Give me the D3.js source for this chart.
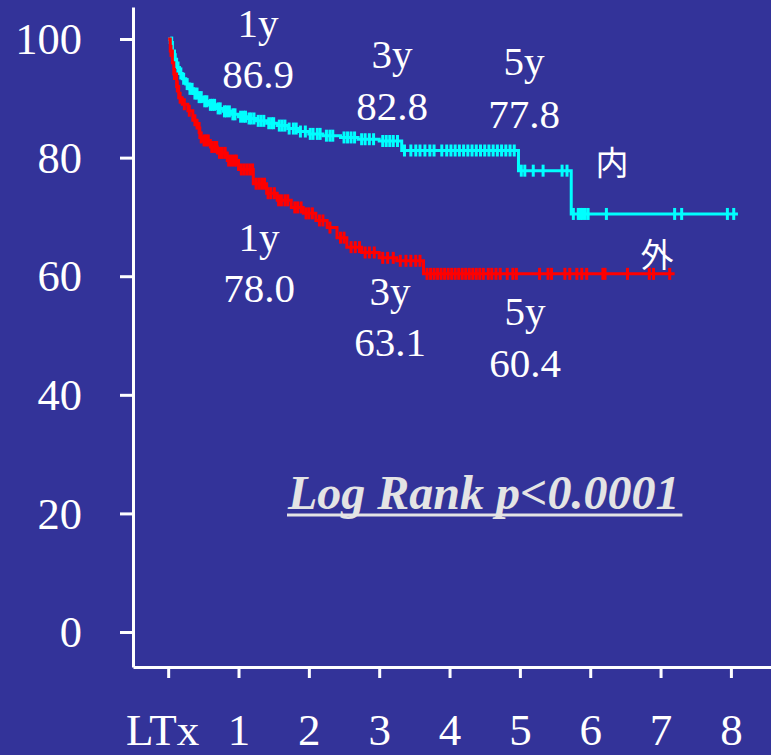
<!DOCTYPE html>
<html>
<head>
<meta charset="utf-8">
<script src="https://cdn.jsdelivr.net/npm/d3@7"></script>
<style>
  html, body { margin: 0; padding: 0; background: #333399; }
  svg { display: block; }
</style>
</head>
<body>
<svg id="chart" width="771" height="755"></svg>
<script>
// Kaplan–Meier survival after LTx, two groups (内 / 外), time in years, survival in %.

// Group 内: step knots (time, survival) and censoring times
const innerTimes = [0, 0.03, 0.06, 0.09, 0.12, 0.16, 0.2, 0.25, 0.3, 0.36, 0.42, 0.5, 0.58, 0.68, 0.78, 0.9, 1.0, 1.12, 1.25, 1.4, 1.55, 1.7, 1.85, 2.0, 2.2, 2.45, 2.7, 3.0, 3.32, 4.98, 5.73];
const innerSurv  = [100, 99.4, 98.0, 96.6, 95.2, 94.2, 93.3, 92.4, 91.6, 90.8, 90.2, 89.5, 88.9, 88.3, 87.8, 87.3, 86.9, 86.6, 86.2, 85.8, 85.4, 84.9, 84.4, 84.0, 83.7, 83.4, 83.1, 82.8, 81.2, 77.8, 70.5];
const innerEnd = 8.1;
const innerCensor = [0.05, 0.1, 0.14, 0.18, 0.22, 0.27, 0.31, 0.34, 0.38, 0.41, 0.44, 0.47, 0.52, 0.55, 0.6, 0.63, 0.66, 0.71, 0.74, 0.8, 0.83, 0.87, 0.92, 0.95, 1.03, 1.07, 1.1, 1.15, 1.18, 1.22, 1.28, 1.32, 1.36, 1.43, 1.47, 1.5, 1.58, 1.62, 1.66, 1.72, 1.78, 1.82, 1.88, 1.95, 2.02, 2.06, 2.12, 2.16, 2.25, 2.3, 2.34, 2.5, 2.55, 2.6, 2.65, 2.75, 2.8, 2.86, 2.92, 3.05, 3.1, 3.15, 3.2, 3.26, 3.36, 3.45, 3.52, 3.58, 3.65, 3.72, 3.78, 3.89, 3.96, 4.02, 4.08, 4.14, 4.2, 4.26, 4.32, 4.38, 4.44, 4.5, 4.56, 4.62, 4.68, 4.74, 4.8, 4.86, 4.92, 5.02, 5.07, 5.19, 5.33, 5.6, 5.67, 5.76, 5.83, 5.86, 5.89, 5.93, 5.97, 6.23, 7.2, 7.3, 7.95, 8.04];

// Group 外
const outerTimes = [0, 0.03, 0.06, 0.08, 0.12, 0.15, 0.2, 0.28, 0.35, 0.41, 0.45, 0.5, 0.6, 0.7, 0.84, 1.0, 1.21, 1.4, 1.55, 1.75, 1.92, 2.1, 2.26, 2.4, 2.54, 2.75, 3.0, 3.25, 3.63];
const outerSurv  = [100, 98.0, 96.0, 94.1, 92.0, 90.1, 89.0, 87.9, 86.3, 85.0, 83.4, 82.9, 81.8, 80.8, 79.5, 78.0, 75.6, 74.0, 72.8, 71.6, 70.6, 69.4, 68.2, 66.5, 64.9, 64.0, 63.1, 62.6, 60.4];
const outerEnd = 7.2;
const outerCensor = [0.04, 0.09, 0.13, 0.17, 0.23, 0.3, 0.38, 0.44, 0.47, 0.51, 0.54, 0.57, 0.62, 0.66, 0.69, 0.73, 0.77, 0.81, 0.86, 0.9, 0.94, 0.97, 1.04, 1.08, 1.12, 1.16, 1.2, 1.25, 1.29, 1.33, 1.37, 1.42, 1.46, 1.51, 1.57, 1.61, 1.66, 1.7, 1.8, 1.84, 1.89, 1.96, 2.0, 2.05, 2.15, 2.2, 2.3, 2.45, 2.5, 2.6, 2.66, 2.72, 2.8, 2.86, 2.93, 3.05, 3.12, 3.2, 3.3, 3.38, 3.45, 3.52, 3.58, 3.68, 3.73, 3.78, 3.83, 3.88, 3.93, 3.98, 4.03, 4.08, 4.13, 4.18, 4.23, 4.28, 4.33, 4.38, 4.43, 4.48, 4.55, 4.6, 4.66, 4.72, 4.82, 4.9, 4.95, 5.28, 5.4, 5.45, 5.64, 5.71, 5.81, 5.88, 5.95, 6.18, 6.21, 6.53, 6.84, 6.9, 7.13];

// Survival read-outs at 1, 3 and 5 years
const milestoneLabels = ["1y", "3y", "5y"];
const innerMilestones = [86.9, 82.8, 77.8];
const outerMilestones = [78.0, 63.1, 60.4];

// Axis ticks
const xTickValues = [0, 1, 2, 3, 4, 5, 6, 7, 8];
const xTickLabels = ["LTx", "1", "2", "3", "4", "5", "6", "7", "8"];
const yTickValues = [0, 20, 40, 60, 80, 100];

const groupNames = ["内", "外"];
const statText = "Log Rank p<0.0001";

// ---------- layout ----------
const svg = d3.select("#chart");
const BG = "#333399";
const CYAN = "#00ffff";
const RED = "#ff0000";
const SERIF = "'Liberation Serif', 'Times New Roman', serif";
const CJK = "'Noto Sans CJK JP', 'Noto Sans CJK SC', sans-serif";

svg.append("rect").attr("width", 771).attr("height", 755).attr("fill", BG);

const x = d3.scaleLinear().domain([-0.5, 8.57]).range([133, 771]);
const y = d3.scaleLinear().domain([-5.9, 105.4]).range([667, 7]);

// ---------- axes ----------
const yAxis = svg.append("g")
  .attr("transform", `translate(${x(-0.5)},0)`)
  .call(d3.axisLeft(y).tickValues(yTickValues).tickSize(13).tickSizeOuter(0).tickPadding(38));
yAxis.selectAll("path, line").attr("stroke", "#ffffff").attr("stroke-width", 3);
yAxis.selectAll("text")
  .attr("fill", "#ffffff")
  .attr("font-family", SERIF)
  .attr("font-size", 44.5)
  .attr("dy", "0.33em");

const xAxis = svg.append("g")
  .attr("transform", `translate(0,${y(-5.9)})`)
  .call(d3.axisBottom(x).tickValues(xTickValues).tickSize(11).tickSizeOuter(0)
        .tickFormat((d, i) => xTickLabels[i]));
xAxis.selectAll("path, line").attr("stroke", "#ffffff").attr("stroke-width", 3);
xAxis.selectAll("text")
  .attr("fill", "#ffffff")
  .attr("font-family", SERIF)
  .attr("font-size", 45)
  .attr("y", 78)
  .attr("dy", 0)
  .attr("dx", (d, i) => i === 0 ? -6 : 0);
svg.selectAll(".domain").attr("stroke-linecap", "butt");

// ---------- survival curves ----------
function survivalAt(times, surv, t) {
  let s = surv[0];
  for (let i = 0; i < times.length; i++) { if (times[i] <= t) s = surv[i]; }
  return s;
}

const stepLine = d3.line()
  .x(d => x(d[0]))
  .y(d => y(d[1]))
  .curve(d3.curveStepAfter);

function drawGroup(times, surv, endT, censor, color) {
  const pts = times.map((t, i) => [t, surv[i]]);
  pts.push([endT, surv[surv.length - 1]]);
  const g = svg.append("g");
  g.append("path")
    .attr("d", stepLine(pts))
    .attr("fill", "none")
    .attr("stroke", color)
    .attr("stroke-width", 3);
  g.selectAll("line.censor")
    .data(censor)
    .join("line")
    .attr("class", "censor")
    .attr("x1", d => x(d)).attr("x2", d => x(d))
    .attr("y1", d => y(survivalAt(times, surv, d)) - 6)
    .attr("y2", d => y(survivalAt(times, surv, d)) + 6)
    .attr("stroke", color)
    .attr("stroke-width", 3);
}

drawGroup(innerTimes, innerSurv, innerEnd, innerCensor, CYAN);
drawGroup(outerTimes, outerSurv, outerEnd, outerCensor, RED);

// ---------- milestone labels ----------
const fmt = d3.format(".1f");
const innerLabelPos = [{cx: 258, b1: 37, b2: 88}, {cx: 392, b1: 68, b2: 120}, {cx: 524, b1: 75, b2: 128}];
const outerLabelPos = [{cx: 259, b1: 251, b2: 302}, {cx: 390, b1: 305, b2: 356}, {cx: 525, b1: 325, b2: 377}];

function drawMilestones(values, pos) {
  const g = svg.append("g")
    .attr("fill", "#ffffff")
    .attr("font-family", SERIF)
    .attr("font-size", 41)
    .attr("text-anchor", "middle");
  values.forEach((v, i) => {
    g.append("text").attr("x", pos[i].cx).attr("y", pos[i].b1).text(milestoneLabels[i]);
    g.append("text").attr("x", pos[i].cx).attr("y", pos[i].b2).text(fmt(v));
  });
}
drawMilestones(innerMilestones, innerLabelPos);
drawMilestones(outerMilestones, outerLabelPos);

// ---------- group names ----------
svg.append("text")
  .attr("x", 612).attr("y", 175)
  .attr("text-anchor", "middle")
  .attr("fill", "#ffffff")
  .attr("font-family", CJK)
  .attr("font-size", 33)
  .text(groupNames[0]);
svg.append("text")
  .attr("x", 657).attr("y", 267)
  .attr("text-anchor", "middle")
  .attr("fill", "#ffffff")
  .attr("font-family", CJK)
  .attr("font-size", 33)
  .text(groupNames[1]);

// ---------- log-rank annotation ----------
const stat = svg.append("text")
  .attr("x", 288).attr("y", 509)
  .attr("fill", "#e4e4e4")
  .attr("font-family", SERIF)
  .attr("font-size", 48)
  .attr("font-weight", "bold")
  .attr("font-style", "italic")
  .text(statText);
const bb = stat.node().getBBox();
svg.append("line")
  .attr("x1", bb.x).attr("x2", bb.x + bb.width + 3)
  .attr("y1", 515).attr("y2", 515)
  .attr("stroke", "#e4e4e4")
  .attr("stroke-width", 3);
</script>
</body>
</html>
